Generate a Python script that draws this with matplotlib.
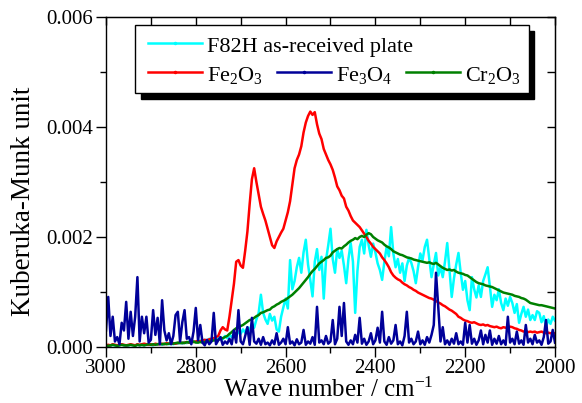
import numpy as np
import matplotlib
matplotlib.use("Agg")
from matplotlib import pyplot as plt
from matplotlib.patches import Rectangle
from matplotlib.ticker import MultipleLocator, FormatStrFormatter

plt.rcParams['font.family'] = ['Liberation Serif', 'DejaVu Serif']
plt.rcParams['mathtext.fontset'] = 'custom'
plt.rcParams['mathtext.rm'] = 'Liberation Serif'
plt.rcParams['mathtext.it'] = 'Liberation Serif:italic'
plt.rcParams['mathtext.bf'] = 'Liberation Serif:bold'

# wave number grid, 3000 -> 2000 cm-1 every 5 cm-1 (values in units of 1e-3)
wave_number = np.arange(3000, 1999, -5)

f82h_plate = [
    0.02, 0.03, 0.02, 0.04, 0.03, 0.02, 0.03, 0.05, 0.03, 0.02,
    0.03, 0.04, 0.03, 0.02, 0.05, 0.03, 0.04, 0.03, 0.05, 0.04,
    0.04, 0.03, 0.05, 0.04, 0.06, 0.04, 0.05, 0.07, 0.05, 0.06,
    0.05, 0.07, 0.06, 0.08, 0.06, 0.09, 0.07, 0.10, 0.08, 0.09,
    0.10, 0.08, 0.12, 0.09, 0.13, 0.11, 0.15, 0.12, 0.16, 0.13,
    0.15, 0.18, 0.14, 0.20, 0.16, 0.22, 0.18, 0.25, 0.20, 0.28,
    0.24, 0.32, 0.26, 0.36, 0.30, 0.42, 0.35, 0.50, 0.62, 0.95,
    0.62, 0.50, 0.42, 0.60, 0.48, 0.55, 0.32, 0.28, 0.55, 0.72,
    0.88, 0.70, 1.58, 1.05, 1.20, 1.45, 1.62, 1.35, 1.72, 1.95,
    1.50, 1.22, 0.92, 1.55, 1.78, 1.40, 1.64, 0.88, 1.58, 1.85,
    2.15, 1.60, 1.35, 1.78, 1.62, 1.75, 1.48, 1.16, 1.60, 1.89,
    1.55, 0.62, 1.38, 1.82, 1.95, 1.70, 2.13, 1.85, 1.64, 1.88,
    1.72, 1.52, 1.40, 1.22, 1.55, 1.82, 1.65, 2.18, 1.70, 1.45,
    1.60, 1.35, 1.52, 1.20, 1.48, 1.62, 1.53, 1.38, 1.16, 1.45,
    1.70, 1.58, 1.82, 1.95, 1.60, 1.27, 1.50, 1.71, 1.30, 1.45,
    1.27, 1.55, 1.89, 1.40, 0.91, 1.25, 1.50, 1.71, 1.35, 1.04,
    1.20, 0.85, 0.67, 1.27, 1.05, 0.90, 1.12, 0.91, 1.20, 1.32,
    1.45, 1.10, 0.73, 0.95, 0.85, 1.05, 0.80, 0.67, 0.88, 0.75,
    0.91, 0.80, 0.62, 0.78, 0.44, 0.60, 0.73, 0.55, 0.68, 0.49,
    0.58, 0.49, 0.65, 0.62, 0.45, 0.56, 0.36, 0.50, 0.42, 0.55, 0.48,
]

fe2o3 = [
    0.03, 0.04, 0.03, 0.05, 0.04, 0.03, 0.04, 0.05, 0.04, 0.03,
    0.04, 0.05, 0.04, 0.03, 0.05, 0.04, 0.05, 0.06, 0.05, 0.04,
    0.05, 0.04, 0.06, 0.05, 0.05, 0.06, 0.05, 0.07, 0.06, 0.06,
    0.07, 0.06, 0.07, 0.08, 0.07, 0.08, 0.09, 0.08, 0.10, 0.09,
    0.10, 0.11, 0.10, 0.12, 0.13, 0.12, 0.14, 0.15, 0.16, 0.18,
    0.20, 0.30, 0.36, 0.32, 0.30, 0.55, 0.85, 1.15, 1.55, 1.58,
    1.48, 1.44, 1.75, 2.10, 2.60, 3.05, 3.25, 3.00, 2.78, 2.55,
    2.42, 2.30, 2.15, 2.00, 1.85, 1.80, 1.92, 2.00, 2.08, 2.15,
    2.30, 2.45, 2.65, 2.95, 3.25, 3.40, 3.50, 3.65, 3.90, 4.08,
    4.20, 4.28, 4.22, 4.27, 4.05, 3.88, 3.78, 3.60, 3.50, 3.40,
    3.32, 3.22, 3.08, 2.92, 2.85, 2.75, 2.70, 2.55, 2.48, 2.38,
    2.30, 2.26, 2.22, 2.18, 2.12, 2.06, 2.00, 1.93, 1.88, 1.82,
    1.78, 1.74, 1.70, 1.63, 1.58, 1.52, 1.45, 1.36, 1.30, 1.26,
    1.23, 1.21, 1.17, 1.14, 1.12, 1.09, 1.07, 1.04, 1.02, 0.99,
    0.97, 0.95, 0.93, 0.91, 0.89, 0.88, 0.86, 0.84, 0.81, 0.79,
    0.76, 0.74, 0.71, 0.68, 0.66, 0.63, 0.60, 0.55, 0.53, 0.50,
    0.48, 0.47, 0.45, 0.44, 0.45, 0.43, 0.41, 0.40, 0.41, 0.39,
    0.40, 0.38, 0.37, 0.36, 0.37, 0.35, 0.34, 0.36, 0.35, 0.36,
    0.37, 0.36, 0.34, 0.33, 0.31, 0.30, 0.28, 0.29, 0.27, 0.28,
    0.27, 0.28, 0.26, 0.27, 0.28, 0.26, 0.25, 0.26, 0.25, 0.24, 0.25,
]

fe3o4 = [
    0.30, 0.91, 0.20, 0.55, 0.10, 0.18, 0.05, 0.44, 0.30, 0.82,
    0.15, 0.64, 0.20, 0.55, 1.27, 0.10, 0.55, 0.25, 0.55, 0.08,
    0.13, 0.67, 0.22, 0.53, 0.05, 0.85, 0.30, 0.12, 0.25, 0.05,
    0.20, 0.58, 0.64, 0.10, 0.45, 0.67, 0.15, 0.18, 0.05, 0.28,
    0.71, 0.12, 0.40, 0.08, 0.03, 0.13, 0.05, 0.10, 0.62, 0.05,
    0.12, 0.18, 0.04, 0.10, 0.06, 0.15, 0.05, 0.30, 0.08, 0.67,
    0.10, 0.05, 0.20, 0.36, 0.04, 0.53, 0.10, 0.06, 0.15, 0.04,
    0.18, 0.05, 0.08, 0.03, 0.12, 0.05, 0.25, 0.04, 0.08, 0.15,
    0.05, 0.36, 0.06, 0.10, 0.03, 0.14, 0.05, 0.08, 0.31, 0.04,
    0.10, 0.06, 0.18, 0.04, 0.73, 0.08, 0.12, 0.05, 0.20, 0.06,
    0.10, 0.49, 0.05, 0.15, 0.73, 0.20, 0.80, 0.10, 0.04, 0.12,
    0.05, 0.22, 0.08, 0.53, 0.06, 0.15, 0.04, 0.10, 0.25, 0.05,
    0.12, 0.35, 0.08, 0.64, 0.10, 0.04, 0.18, 0.06, 0.12, 0.40,
    0.05, 0.10, 0.03, 0.20, 0.64, 0.08, 0.15, 0.05, 0.10, 0.28,
    0.05, 0.12, 0.04, 0.18, 0.08, 0.22, 0.40, 1.35, 0.73, 0.10,
    0.36, 0.05, 0.12, 0.04, 0.15, 0.06, 0.25, 0.05, 0.10, 0.04,
    0.44, 0.08, 0.40, 0.06, 0.15, 0.04, 0.12, 0.30, 0.05, 0.22,
    0.08, 0.30, 0.04, 0.15, 0.06, 0.20, 0.05, 0.12, 0.04, 0.55,
    0.08, 0.15, 0.05, 0.28, 0.06, 0.12, 0.04, 0.40, 0.08, 0.15,
    0.05, 0.22, 0.08, 0.12, 0.04, 0.18, 0.49, 0.06, 0.10, 0.31, 0.08,
]

cr2o3 = [
    0.03, 0.02, 0.03, 0.04, 0.03, 0.02, 0.03, 0.04, 0.03, 0.03,
    0.03, 0.04, 0.03, 0.02, 0.04, 0.03, 0.04, 0.03, 0.04, 0.05,
    0.04, 0.05, 0.04, 0.05, 0.06, 0.05, 0.06, 0.05, 0.06, 0.07,
    0.06, 0.07, 0.08, 0.07, 0.08, 0.07, 0.09, 0.08, 0.09, 0.10,
    0.08, 0.08, 0.09, 0.08, 0.09, 0.10, 0.10, 0.11, 0.12, 0.12,
    0.13, 0.15, 0.16, 0.18, 0.20, 0.24, 0.27, 0.31, 0.34, 0.36,
    0.38, 0.40, 0.43, 0.46, 0.49, 0.50, 0.53, 0.56, 0.58, 0.62,
    0.63, 0.65, 0.67, 0.68, 0.72, 0.74, 0.77, 0.79, 0.82, 0.84,
    0.86, 0.89, 0.92, 0.95, 0.99, 1.03, 1.07, 1.12, 1.17, 1.22,
    1.27, 1.33, 1.38, 1.42, 1.47, 1.52, 1.55, 1.58, 1.62, 1.63,
    1.66, 1.72, 1.75, 1.78, 1.80, 1.79, 1.83, 1.86, 1.90, 1.93,
    1.95, 1.98, 1.96, 2.00, 2.02, 2.00, 2.04, 2.07, 2.05, 2.00,
    1.97, 1.94, 1.92, 1.90, 1.86, 1.83, 1.81, 1.78, 1.74, 1.72,
    1.70, 1.68, 1.67, 1.65, 1.63, 1.62, 1.61, 1.59, 1.58, 1.57,
    1.56, 1.55, 1.54, 1.53, 1.54, 1.52, 1.51, 1.53, 1.50, 1.47,
    1.44, 1.42, 1.40, 1.41, 1.39, 1.40, 1.37, 1.35, 1.34, 1.33,
    1.31, 1.30, 1.27, 1.24, 1.21, 1.18, 1.16, 1.15, 1.14, 1.12,
    1.11, 1.10, 1.09, 1.07, 1.05, 1.03, 1.01, 0.99, 0.98, 0.97,
    0.96, 0.95, 0.93, 0.92, 0.91, 0.89, 0.88, 0.86, 0.83, 0.80,
    0.79, 0.78, 0.77, 0.76, 0.76, 0.75, 0.74, 0.73, 0.72, 0.71, 0.70,
]

series = [
    ("F82H as-received plate", f82h_plate, "#00ffff"),
    ("Fe$_2$O$_3$", fe2o3, "#ff0000"),
    ("Cr$_2$O$_3$", cr2o3, "#008000"),
    ("Fe$_3$O$_4$", fe3o4, "#000099"),
]

fig = plt.figure(figsize=(5.82, 4.03), dpi=100)
ax = fig.add_axes([0.1821, 0.1390, 0.7715, 0.8188])

for name, values, color in series:
    ax.plot(wave_number, np.array(values) * 1e-3, color=color, lw=1.8)

ax.set_xlim(3000, 2000)
ax.set_ylim(0, 0.006)
ax.xaxis.set_major_locator(MultipleLocator(200))
ax.xaxis.set_minor_locator(MultipleLocator(100))
ax.yaxis.set_major_locator(MultipleLocator(0.002))
ax.yaxis.set_minor_locator(MultipleLocator(0.001))
ax.yaxis.set_major_formatter(FormatStrFormatter('%.3f'))
ax.tick_params(which='major', direction='out', length=7, width=1, labelsize=15, pad=2)
ax.tick_params(which='minor', direction='out', length=4, width=1)
for s in ax.spines.values():
    s.set_linewidth(1.0)

top = ax.secondary_xaxis('top')
top.xaxis.set_major_locator(MultipleLocator(100))
top.tick_params(direction='in', length=6, width=1, labeltop=False)
right = ax.secondary_yaxis('right')
right.yaxis.set_major_locator(MultipleLocator(0.001))
right.tick_params(direction='in', length=6, width=1, labelright=False)

ax.set_xlabel('Wave number / cm$^{-1}$', fontsize=18)
ax.set_ylabel('Kuberuka-Munk unit', fontsize=19.5)
ax.xaxis.set_label_coords(0.495, -0.092)
ax.yaxis.set_label_coords(-0.155, 0.44)

# legend box with drop shadow
x0, x1, y0, y1 = 0.065, 0.942, 0.770, 0.976
ax.add_patch(Rectangle((x0 + 0.012, y0 - 0.018), x1 - x0, y1 - y0, transform=ax.transAxes,
                       facecolor='black', edgecolor='black', zorder=10, clip_on=False))
ax.add_patch(Rectangle((x0, y0), x1 - x0, y1 - y0, transform=ax.transAxes,
                       facecolor='white', edgecolor='black', lw=1.0, zorder=11, clip_on=False))

entries = [
    ("F82H as-received plate", "#00ffff", 0.0935, 0.921),
    ("Fe$_2$O$_3$", "#ff0000", 0.0935, 0.833),
    ("Fe$_3$O$_4$", "#000099", 0.381, 0.833),
    ("Cr$_2$O$_3$", "#008000", 0.668, 0.833),
]
for label, color, hx, hy in entries:
    ax.plot([hx, hx + 0.06, hx + 0.12], [hy, hy, hy], color=color, lw=1.8,
            marker='.', markersize=3, markevery=[1], transform=ax.transAxes,
            zorder=12, clip_on=False)
    ax.text(hx + 0.131, hy - 0.027, label, transform=ax.transAxes, fontsize=16,
            ha='left', va='baseline', zorder=12)

fig.savefig('out.png', dpi=100)
